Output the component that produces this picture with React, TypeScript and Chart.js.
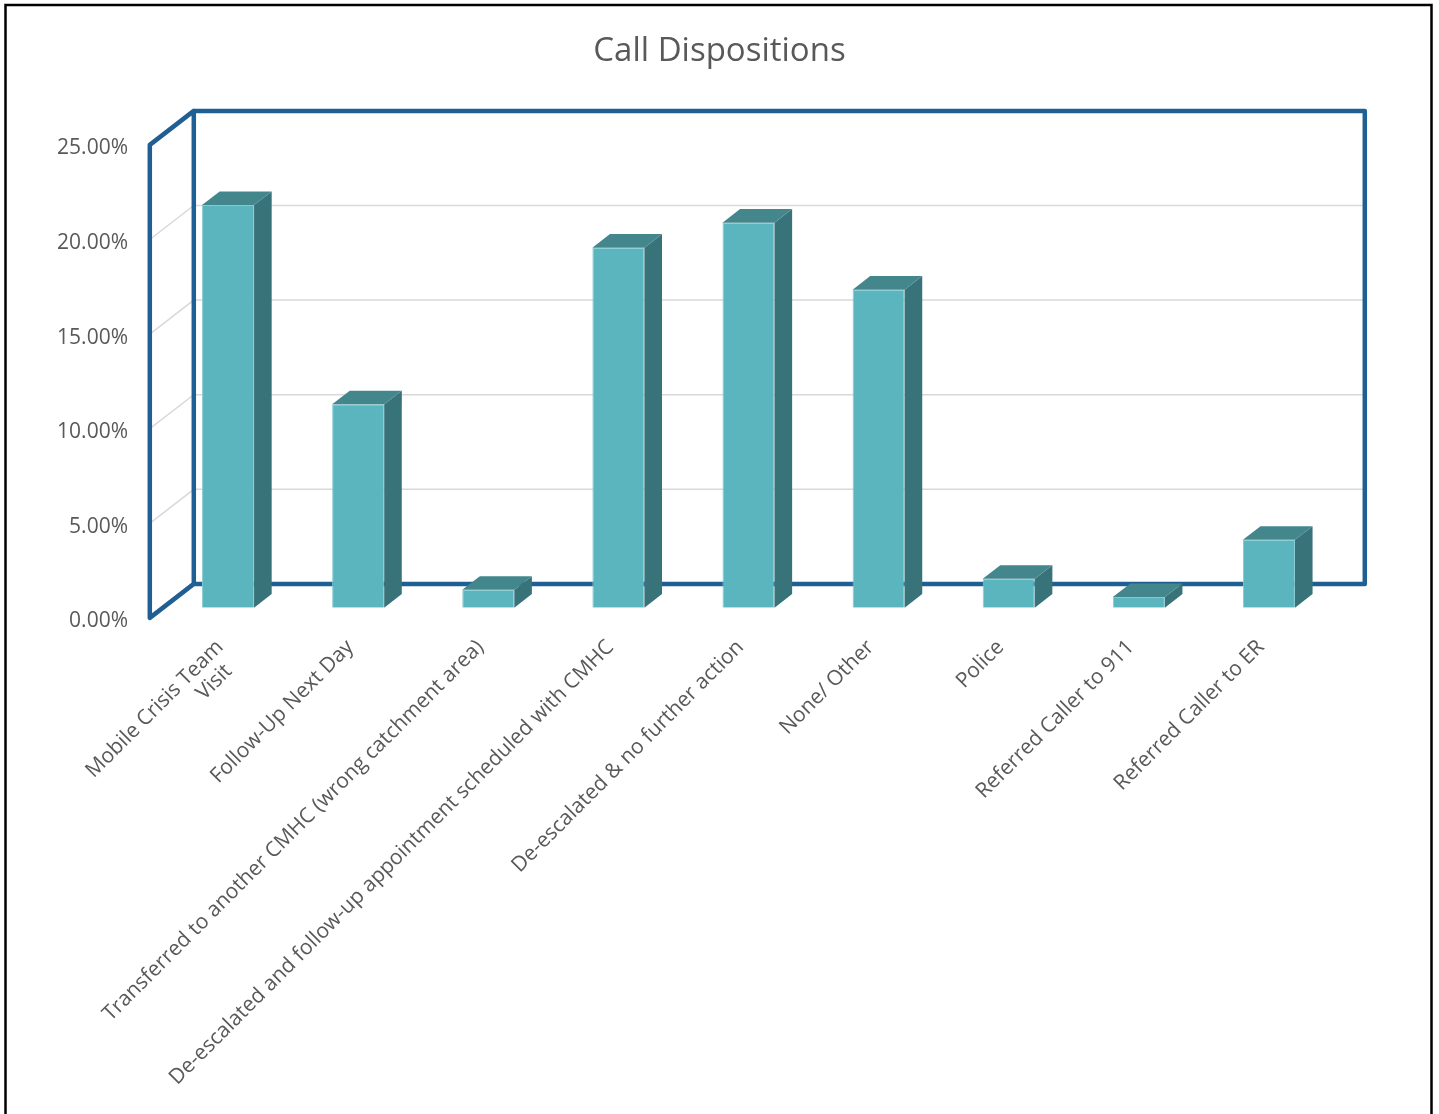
import React, { useEffect, useRef } from "react";
import { Chart, registerables } from "chart.js";

Chart.register(...registerables);

const TITLE = "Call Dispositions";
const categories: (string | string[])[] = [
  ["Mobile Crisis Team", "Visit  "],
  "Follow-Up Next Day",
  "Transferred to another CMHC (wrong catchment area)",
  "De-escalated and follow-up appointment scheduled with CMHC",
  "De-escalated & no further action",
  "None/ Other",
  "Police",
  "Referred Caller to 911",
  "Referred Caller to ER",
];
const shares = [0.2128, 0.1075, 0.0095, 0.1903, 0.2035, 0.1681, 0.0153, 0.0056, 0.0359];
const Y_MIN = 0;
const Y_MAX = 0.25;
const Y_STEP = 0.05;

const W = 1439;
const H = 1114;
const FONT = "'Open Sans', sans-serif";
const TEXT = "#595959";
const FRONT = "#5BB5BF";
const SIDE = "#38737A";
const TOP = "#43878D";
const EDGE = "#86CAD1";
const FRAME = "#1F5F93";
const GRID = "#D9D9D9";

// 3D geometry: full depth vector of the box, bars sit inside it
const DX = 44;
const DY = -34;
const FRONT_GAP = 0.3;
const BAR_DEPTH = 0.4;

const PLOT_LEFT = 163;
const PLOT_RIGHT = 1334;
const PLOT_TOP = 134.7;
const PLOT_BOTTOM = 607.7;

const box3d = {
  id: "box3d",
  beforeDraw(chart: any) {
    const ctx = chart.ctx;
    ctx.save();
    ctx.strokeStyle = "#000";
    ctx.lineWidth = 2.5;
    ctx.beginPath();
    ctx.moveTo(5.5, H + 10);
    ctx.lineTo(5.5, 5);
    ctx.lineTo(1431.5, 5);
    ctx.lineTo(1431.5, H + 10);
    ctx.stroke();
    ctx.fillStyle = TEXT;
    ctx.font = "33px " + FONT;
    ctx.textAlign = "center";
    ctx.textBaseline = "alphabetic";
    ctx.fillText(TITLE, W / 2, 61);
    ctx.restore();
  },
  beforeDatasetsDraw(chart: any) {
    const ctx = chart.ctx;
    const a = chart.chartArea;
    const y = chart.scales.y;
    const fx = -FRONT_GAP * DX;
    const fy = -FRONT_GAP * DY;
    const bx = (1 - FRONT_GAP) * DX;
    const by = (1 - FRONT_GAP) * DY;
    ctx.save();
    ctx.strokeStyle = GRID;
    ctx.lineWidth = 1.5;
    y.ticks.forEach((t: any) => {
      if (t.value <= Y_MIN + 1e-9 || t.value >= Y_MAX - 1e-9) return;
      const p = y.getPixelForValue(t.value);
      ctx.beginPath();
      ctx.moveTo(a.left + fx, p + fy);
      ctx.lineTo(a.left + bx, p + by);
      ctx.lineTo(a.right + bx, p + by);
      ctx.stroke();
    });
    const top = y.getPixelForValue(Y_MAX);
    const bot = y.getPixelForValue(Y_MIN);
    ctx.strokeStyle = FRAME;
    ctx.lineWidth = 4.5;
    ctx.lineJoin = "round";
    ctx.lineCap = "round";
    ctx.beginPath();
    ctx.moveTo(a.left + bx, bot + by);
    ctx.lineTo(a.left + bx, top + by);
    ctx.lineTo(a.right + bx, top + by);
    ctx.lineTo(a.right + bx, bot + by);
    ctx.lineTo(a.left + bx, bot + by);
    ctx.lineTo(a.left + fx, bot + fy);
    ctx.lineTo(a.left + fx, top + fy);
    ctx.lineTo(a.left + bx, top + by);
    ctx.stroke();
    ctx.restore();
  },
  afterDatasetsDraw(chart: any) {
    const ctx = chart.ctx;
    const meta = chart.getDatasetMeta(0);
    const ox = BAR_DEPTH * DX;
    const oy = BAR_DEPTH * DY;
    ctx.save();
    meta.data.forEach((bar: any) => {
      const { x, y, base, width } = bar.getProps(["x", "y", "base", "width"], true);
      const l = x - width / 2;
      const r = x + width / 2;
      ctx.fillStyle = SIDE;
      ctx.beginPath();
      ctx.moveTo(r, y);
      ctx.lineTo(r + ox, y + oy);
      ctx.lineTo(r + ox, base + oy);
      ctx.lineTo(r, base);
      ctx.closePath();
      ctx.fill();
      ctx.fillStyle = TOP;
      ctx.beginPath();
      ctx.moveTo(l, y);
      ctx.lineTo(l + ox, y + oy);
      ctx.lineTo(r + ox, y + oy);
      ctx.lineTo(r, y);
      ctx.closePath();
      ctx.fill();
    });
    ctx.restore();
  },
};

export default function App() {
  const ref = useRef<HTMLCanvasElement | null>(null);
  useEffect(() => {
    if (!ref.current) return;
    const chart = new Chart(ref.current, {
      type: "bar",
      data: {
        labels: categories,
        datasets: [
          {
            data: shares,
            backgroundColor: FRONT,
            borderColor: EDGE,
            borderWidth: 1,
            barPercentage: 0.4,
            categoryPercentage: 1,
          },
        ],
      },
      options: {
        responsive: false,
        animation: false,
        devicePixelRatio: 1,
        layout: { padding: { left: 0, right: W - PLOT_RIGHT, top: PLOT_TOP, bottom: 0 } },
        plugins: {
          legend: { display: false },
          tooltip: { enabled: false },
          title: { display: false },
        },
        scales: {
          x: {
            offset: true,
            grid: { display: false, drawTicks: false },
            border: { display: false },
            ticks: {
              autoSkip: false,
              minRotation: 45,
              maxRotation: 45,
              padding: 28,
              labelOffset: -8,
              color: TEXT,
              font: { family: FONT, size: 21, lineHeight: 1.1 },
            },
            afterFit: (s: any) => {
              s.height = H - PLOT_BOTTOM;
            },
          },
          y: {
            min: Y_MIN,
            max: Y_MAX,
            grid: { display: false, drawTicks: false },
            border: { display: false },
            ticks: {
              stepSize: Y_STEP,
              padding: PLOT_LEFT - 128,
              labelOffset: -FRONT_GAP * DY + 3.5,
              color: TEXT,
              font: { family: FONT, size: 21 },
              callback: (v: any) => (Number(v) * 100).toFixed(2) + "%",
            },
            afterFit: (s: any) => {
              s.width = PLOT_LEFT;
            },
          },
        },
      },
      plugins: [box3d],
    });
    return () => chart.destroy();
  }, []);
  return (
    <div style={{ position: "absolute", left: 0, top: 0, width: W, height: H, background: "#fff" }}>
      <canvas ref={ref} width={W} height={H} style={{ display: "block" }} />
    </div>
  );
}
